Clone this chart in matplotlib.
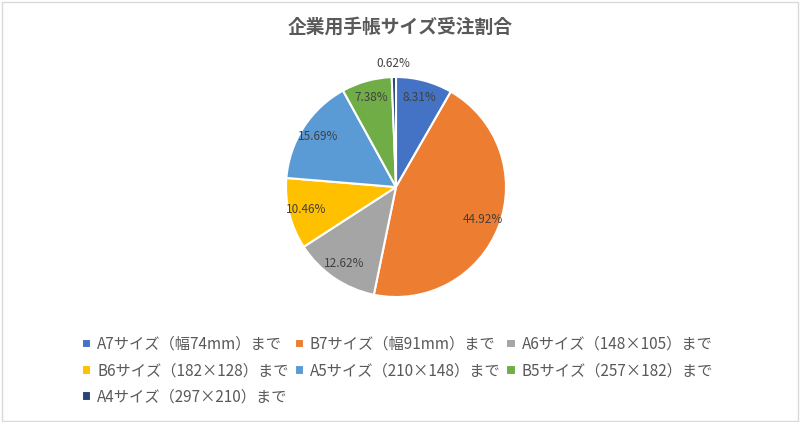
import numpy as np
import matplotlib
matplotlib.use("Agg")
import matplotlib.pyplot as plt
from matplotlib.patches import Rectangle

plt.rcParams['font.family'] = ['Noto Sans CJK JP', 'DejaVu Sans']

title = "企業用手帳サイズ受注割合"
labels = ["A7サイズ（幅74mm）まで", "B7サイズ（幅91mm）まで", "A6サイズ（148×105）まで",
          "B6サイズ（182×128）まで", "A5サイズ（210×148）まで", "B5サイズ（257×182）まで",
          "A4サイズ（297×210）まで"]
shares = [8.31, 44.92, 12.62, 10.46, 15.69, 7.38, 0.62]
colors = ["#4472C4", "#ED7D31", "#A5A5A5", "#FFC000", "#5B9BD5", "#70AD47", "#264478"]

fig = plt.figure(figsize=(8, 4.22), dpi=100)
fig.patches.append(Rectangle((0.002, 0.003), 0.995, 0.993, transform=fig.transFigure,
                             fill=False, edgecolor="#D9D9D9", linewidth=1))

# pie axes: centre ~ (396,187) px, radius ~110 px
ax = fig.add_axes([(396 - 110) / 800, 1 - (187 + 110) / 422, 220 / 800, 220 / 422])
wedges, _ = ax.pie(shares, colors=colors, startangle=90, counterclock=False,
                   wedgeprops=dict(edgecolor="white", linewidth=1.5), radius=1)
ax.set_xlim(-1, 1)
ax.set_ylim(-1, 1)
ax.set_aspect("equal")

for w, v in zip(wedges, shares):
    ang = np.deg2rad((w.theta1 + w.theta2) / 2)
    d = 1.12 if v < 2 else 0.84
    ax.text(d * np.cos(ang), d * np.sin(ang), f"{v:.2f}%", ha="center", va="center",
            fontsize=8.5, color="#404040")

fig.text(0.5, 1 - 27 / 422, title, ha="center", va="center", fontsize=13.5,
         fontweight="bold", color="#595959")

# legend is filled row by row in the reference
order = [0, 3, 6, 1, 4, 2, 5]
fig.legend([wedges[i] for i in order], [labels[i] for i in order], loc="upper left",
           bbox_to_anchor=(82 / 800, 1 - 336 / 422),
           ncol=3, frameon=False, fontsize=11, handlelength=0.6, handleheight=0.6,
           handletextpad=0.4, columnspacing=0.38, labelspacing=0.6,
           labelcolor="#595959", borderaxespad=0, borderpad=0)

fig.savefig("out.png", dpi=100)
